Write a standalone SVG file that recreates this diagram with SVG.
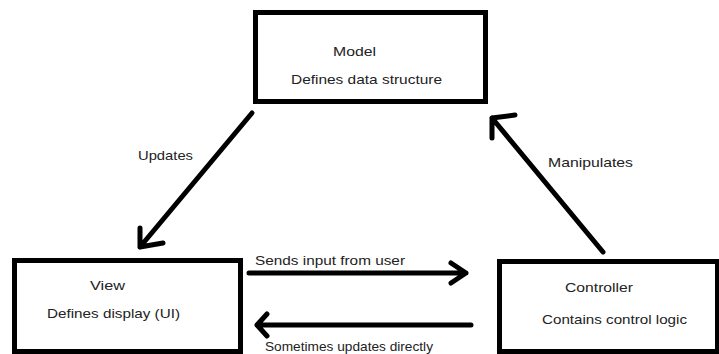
<svg xmlns="http://www.w3.org/2000/svg" width="719" height="354" viewBox="0 0 719 354">
<style>
.box{fill:#fff;stroke:#000;stroke-width:5}
.t{font-family:"Liberation Sans",Arial,sans-serif;font-size:13.5px;fill:#222}
.c{fill:none;stroke:#000;stroke-width:5;stroke-linecap:round;stroke-linejoin:round}
</style>
<rect width="719" height="354" fill="#fff"/>
<g id="model">
<rect class="box" x="255.5" y="12.5" width="230" height="89"/>
<text class="t" x="333" y="56" textLength="43" lengthAdjust="spacingAndGlyphs">Model</text>
<text class="t" x="291" y="84" textLength="151" lengthAdjust="spacingAndGlyphs">Defines data structure</text>
</g>
<g id="view">
<rect class="box" x="14.5" y="260.5" width="226" height="91"/>
<text class="t" x="90" y="290" textLength="35" lengthAdjust="spacingAndGlyphs">View</text>
<text class="t" x="47" y="318" textLength="133" lengthAdjust="spacingAndGlyphs">Defines display (UI)</text>
</g>
<g id="controller">
<rect class="box" x="499.5" y="261.5" width="218" height="90"/>
<text class="t" x="565" y="292" textLength="68" lengthAdjust="spacingAndGlyphs">Controller</text>
<text class="t" x="542" y="324" textLength="145" lengthAdjust="spacingAndGlyphs">Contains control logic</text>
</g>
<g id="connectors">
<path class="c" d="M252 113 L140 247 M140 228 L140 247 L163 243"/>
<text class="t" x="138" y="160" textLength="55" lengthAdjust="spacingAndGlyphs">Updates</text>
<path class="c" d="M603 252 L492 118 M492 138 L492 118 L515 115"/>
<text class="t" x="548" y="167" textLength="85" lengthAdjust="spacingAndGlyphs">Manipulates</text>
<path class="c" d="M249 273 L466 273 M451 263 L466 273 L451 283"/>
<text class="t" x="255" y="265" textLength="150" lengthAdjust="spacingAndGlyphs">Sends input from user</text>
<path class="c" d="M471 325 L257 325 M267 314 L257 325 L267 336"/>
<text class="t" x="265" y="351" textLength="168" lengthAdjust="spacingAndGlyphs">Sometimes updates directly</text>
</g>
</svg>
